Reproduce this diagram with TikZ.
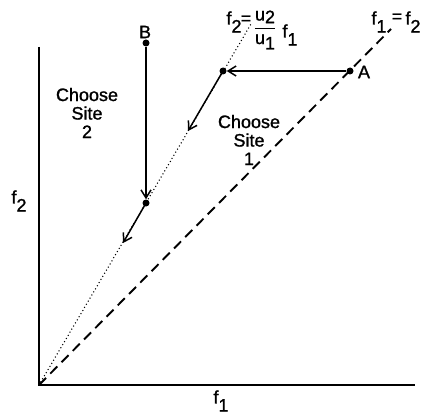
\documentclass[tikz,border=0pt]{standalone}
\usepackage{fontspec}
\setmainfont{Liberation Sans}[FakeBold=1.2]
\usetikzlibrary{arrows.meta}
\newcommand\lowsub[1]{\raisebox{-0.45em}{#1}}
\begin{document}
\begin{tikzpicture}[x=1pt,y=-1pt,
  lbl/.style={font=\fontsize{18}{18.5}\selectfont, inner sep=0pt, align=center},
  axis/.style={line width=2.2pt},
  dotline/.style={line width=1.5pt, line cap=round, dash pattern=on 0pt off 3.6pt},
  dashline/.style={line width=1.9pt, dash pattern=on 10pt off 6pt},
  move/.style={line width=1.5pt, -{Straight Barb[length=8pt,width=10pt,line width=1.5pt]}},
  dot/.style={circle, fill=black, inner sep=0pt, minimum size=7pt}]
\useasboundingbox (0,0) rectangle (422,414);
\coordinate (O) at (39,385);
\coordinate (Ytop) at (39,47);
\coordinate (Xend) at (415,385);
\coordinate (DashEnd) at (391,29);
\coordinate (DotEnd) at (251,24);
\draw[axis] (Ytop) -- (O) -- (Xend);
\draw[dashline] (O) -- (DashEnd);
\draw[dotline] (O) -- (DotEnd);
\node[dot] (A) at (350,71) {};
\node[dot] (C) at (223,71) {};
\node[dot] (B) at (146,43) {};
\node[dot] (D) at (146,203) {};
\coordinate (C2) at (188,131);
\coordinate (D2) at (123,243);
\draw[move] (A) -- (C);
\draw[move] (B) -- (D);
\draw[move] (C.center) -- (C2);
\draw[move] (D.center) -- (D2);
\node[lbl] (Alab) at (364,72) {A};
\node[lbl] (Blab) at (145,32) {B};
\node[lbl] (s2) at (87,113) {Choose\\Site\\2};
\node[lbl] (s1) at (249,140) {Choose\\Site\\1};
\node[lbl] (f2) at (19,201) {f\lowsub{2}};
\node[lbl] (f1) at (221,401) {f\lowsub{1}};
\node[lbl] (eq1a) at (379,22) {f\lowsub{1}};
\node[lbl] (eq1b) at (397,18) {=};
\node[lbl] (eq1c) at (413,22) {f\lowsub{2}};
\node[lbl] (eq2a) at (234,22) {f\lowsub{2}};
\node[lbl] (eq2b) at (246,20) {=};
\node[lbl] (eq2c) at (265,30) {$\displaystyle\frac{\mbox{u\raisebox{-0.15em}{2}}}{\mbox{u\raisebox{-0.3em}{1}}}$};
\node[lbl] (eq2d) at (290,35) {f\lowsub{1}};
\end{tikzpicture}
\end{document}
